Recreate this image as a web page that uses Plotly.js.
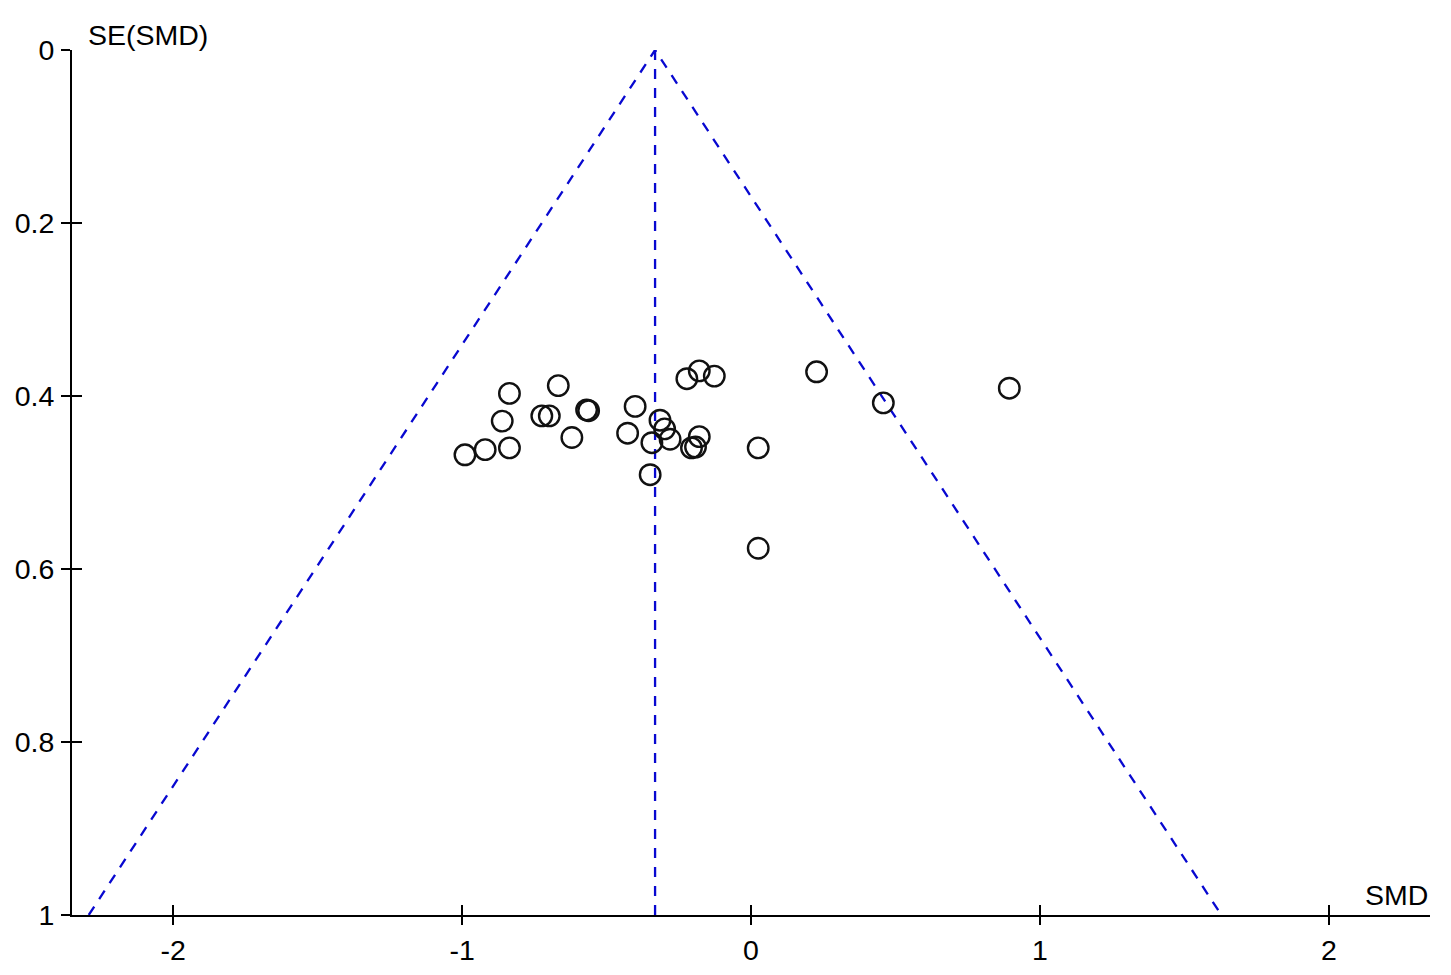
<!DOCTYPE html>
<html>
<head>
<meta charset="utf-8">
<script src="https://cdn.plot.ly/plotly-3.0.1.min.js"></script>
<style>
html,body{margin:0;padding:0;background:#fff;}
#chart{width:1451px;height:975px;}
</style>
</head>
<body>
<div id="chart"></div>
<script>
// Study effect sizes (SMD) and their standard errors
const smd = [-0.990, -0.920, -0.836, -0.861, -0.836, -0.667, -0.724, -0.698, -0.569, -0.562,
             -0.620, -0.401, -0.427, -0.315, -0.343, -0.299, -0.280, -0.349, -0.222, -0.179,
             -0.127, -0.179, -0.206, -0.192, 0.025, 0.227, 0.458, 0.894, 0.025];
const seSMD = [0.468, 0.462, 0.460, 0.429, 0.397, 0.388, 0.423, 0.423, 0.416, 0.417,
               0.448, 0.412, 0.443, 0.428, 0.454, 0.438, 0.450, 0.491, 0.380, 0.371,
               0.377, 0.447, 0.460, 0.459, 0.460, 0.372, 0.408, 0.391, 0.576];

// Funnel (pseudo 95% limits) and pooled estimate line
const funnelX = [-2.292, -0.332, 1.628];
const funnelSE = [1, 0, 1];
const pooledX = [-0.332, -0.332];
const pooledSE = [0, 1];

// Axis ticks
const xTicks = [-2, -1, 0, 1, 2];
const xTickText = ['-2', '-1', '0', '1', '2'];
const yTicks = [0, 0.2, 0.4, 0.6, 0.8, 1];
const yTickText = ['0', '0.2', '0.4', '0.6', '0.8', '1'];

const FONT = 'Liberation Sans, Arial, sans-serif';
const FS = 28.5;
const blue = '#0808d0';

const traces = [
  {x: funnelX, y: funnelSE, mode: 'lines', type: 'scatter',
   line: {color: blue, width: 2.3, dash: '10px,9px'}, hoverinfo: 'skip', showlegend: false},
  {x: pooledX, y: pooledSE, mode: 'lines', type: 'scatter',
   line: {color: blue, width: 2.3, dash: '10px,9px'}, hoverinfo: 'skip', showlegend: false},
  {x: smd, y: seSMD, mode: 'markers', type: 'scatter',
   marker: {symbol: 'circle-open', size: 20.5, color: '#111', line: {width: 2.4, color: '#111'}},
   showlegend: false},
  // empty trace to hold the overlay axes that draw the inner half of the crossing ticks
  {x: [], y: [], xaxis: 'x2', yaxis: 'y2', type: 'scatter', mode: 'markers', showlegend: false}
];

const axCommon = {
  showgrid: false, zeroline: false, showline: false,
  tickcolor: '#000', tickwidth: 2,
  tickfont: {family: FONT, size: FS, color: '#000'}
};

const layout = {
  width: 1451, height: 975,
  margin: {l: 72, r: 21, t: 50, b: 60},
  paper_bgcolor: '#fff', plot_bgcolor: '#fff',
  font: {family: FONT, size: FS, color: '#000'},
  xaxis: Object.assign({}, axCommon, {
    range: [-2.35, 2.35], tickmode: 'array', tickvals: xTicks, ticktext: xTickText,
    ticks: 'outside', ticklen: 8, showline: true, linecolor: '#000', linewidth: 2,
    mirror: false, side: 'bottom', ticklabelstandoff: 1
  }),
  yaxis: Object.assign({}, axCommon, {
    range: [1, 0], tickmode: 'array', tickvals: yTicks, ticktext: yTickText,
    ticks: 'outside', ticklen: 9, showline: true, linecolor: '#000', linewidth: 2,
    side: 'left', ticklabelstandoff: 1
  }),
  xaxis2: Object.assign({}, axCommon, {
    range: [-2.35, 2.35], tickmode: 'array', tickvals: xTicks,
    overlaying: 'x', anchor: 'y2', side: 'bottom',
    ticks: 'inside', ticklen: 10, showticklabels: false
  }),
  yaxis2: Object.assign({}, axCommon, {
    range: [1, 0], tickmode: 'array', tickvals: yTicks,
    overlaying: 'y', anchor: 'x2', side: 'left',
    ticks: 'inside', ticklen: 10, showticklabels: false
  }),
  annotations: [
    {text: 'SE(SMD)', xref: 'paper', yref: 'paper', x: 0.0105, y: 1.0,
     xanchor: 'left', yanchor: 'bottom', showarrow: false, yshift: -3,
     font: {family: FONT, size: FS, color: '#000'}},
    {text: 'SMD', xref: 'paper', yref: 'paper', x: 1.0, y: 0,
     xanchor: 'right', yanchor: 'bottom', showarrow: false, yshift: 2,
     font: {family: FONT, size: FS, color: '#000'}}
  ]
};

Plotly.newPlot('chart', traces, layout, {displayModeBar: false, staticPlot: true});
</script>
</body>
</html>
